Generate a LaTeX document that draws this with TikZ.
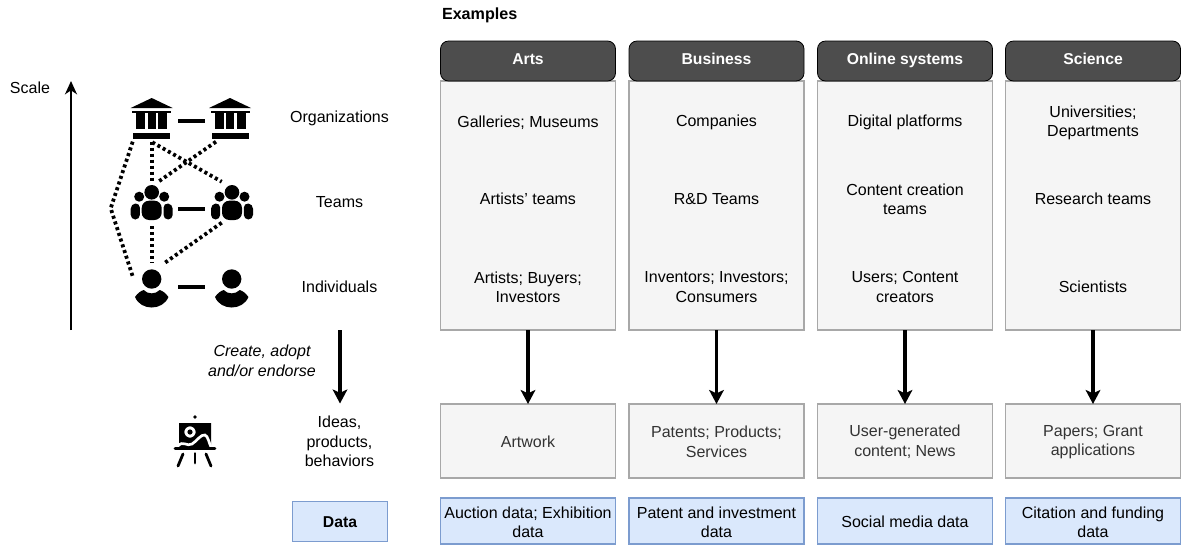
\documentclass[tikz,border=0pt]{standalone}
\usepackage{fontspec}
\setmainfont{Liberation Sans}
\usetikzlibrary{arrows.meta}
\definecolor{hdr}{HTML}{4D4D4D}
\definecolor{bodyfill}{HTML}{F5F5F5}
\definecolor{bodyline}{HTML}{A8A8A8}
\definecolor{datafill}{HTML}{DAE8FC}
\definecolor{dataline}{HTML}{7C9CCF}
\definecolor{graytext}{HTML}{333333}
\tikzset{
  x=0.75pt,y=-0.75pt,
  every node/.style={font=\fontsize{12pt}{14.5pt}\selectfont,align=center,inner sep=0pt,outer sep=0pt,text=black},
  hdrbox/.style={draw=black,line width=0.6pt,fill=hdr,rounded corners=6pt},
  hdrtext/.style={text=white,font=\fontsize{11.8pt}{14.8pt}\selectfont\bfseries,text height=8.5pt,text depth=2.5pt},
  bodybox/.style={draw=bodyline,line width=1.1pt,fill=bodyfill},
  databox/.style={draw=dataline,line width=1pt,fill=datafill},
  flow/.style={-{Stealth[length=10.5pt,width=11pt,inset=2.5pt]},line width=2.3pt,black},
  solidlink/.style={line width=2.8pt,black},
  dotlink/.style={line width=2.8pt,black,dash pattern=on 2.3pt off 2.2pt},
}
\newcommand{\bankicon}[2]{%
  \begin{scope}[shift={(#1,#2)}]
    \fill (0,0) -- (21,10) -- (-21,10) -- cycle;
    \fill (-19.5,12.5) rectangle (19.5,15);
    \fill (-15.5,15) rectangle (-6.5,31);
    \fill (-3.8,15) rectangle (3.8,31);
    \fill (6.5,15) rectangle (15.5,31);
    \fill (-18.5,35.2) rectangle (18.5,41);
  \end{scope}}
\newcommand{\teamicon}[2]{%
  \begin{scope}[shift={(#1,#2)}]
    \fill (0,7.3) circle[radius=7.3];
    \fill (-12.5,11.7) circle[radius=5];
    \fill (12.5,11.7) circle[radius=5];
    \fill[rounded corners=5.5pt] (-10,35) -- (-10,15.7) -- (10,15.7) -- (10,35) -- cycle;
    \fill[rounded corners=3.5pt] (-21,34.5) -- (-21,19) -- (-11.8,18) -- (-11.8,34.5) -- cycle;
    \fill[rounded corners=3.5pt] (21,34.5) -- (21,19) -- (11.8,18) -- (11.8,34.5) -- cycle;
  \end{scope}}
\newcommand{\personicon}[2]{%
  \begin{scope}[shift={(#1,#2)}]
    \fill (0,0) circle[radius=9.7];
    \fill (-16.7,18) .. controls (-14,14) and (-11,12) .. (-8,11)
       .. controls (-4,15.5) and (4,15.5) .. (8,11)
       .. controls (11,12) and (14,14) .. (16.7,18)
       .. controls (11,32) and (-11,32) .. (-16.7,18) -- cycle;
  \end{scope}}
\begin{document}
\begin{tikzpicture}
\useasboundingbox (0,0) rectangle (1181,544);
\node[font=\fontsize{12.1pt}{14pt}\selectfont\bfseries,anchor=west] (examples) at (442,15.5) {Examples};
% columns
\foreach \nm/\xx/\hh/\aa/\bb/\cc/\dd/\ee in {
 a/440.5/Arts/Galleries; Museums/Artists' teams/{Artists; Buyers;\\Investors}/Artwork/{Auction data; Exhibition\\data},
 b/629/Business/Companies/R\&D Teams/{Inventors; Investors;\\Consumers}/{Patents; Products;\\Services}/{Patent and investment\\data},
 c/817.5/Online systems/Digital platforms/{Content creation\\teams}/{Users; Content\\creators}/{User-generated\\content; News}/Social media data,
 d/1005.5/Science/{Universities;\\Departments}/Research teams/Scientists/{Papers; Grant\\applications}/{Citation and funding\\data}}
{
  \path[bodybox] (\xx,81) rectangle ++(175,249);
  \path[hdrbox] (\xx,41) rectangle ++(175,40);
  \node[hdrtext] (h\nm) at (\xx+87.5,60.5) {\hh};
  \node (o\nm) at (\xx+87.5,122.7) {\aa};
  \node (t\nm) at (\xx+87.5,199) {\bb};
  \node (i\nm) at (\xx+87.5,287) {\cc};
  \coordinate (top\nm) at (\xx+87.5,330);
  \node[bodybox,minimum width=131.25pt,minimum height=55.5pt,anchor=north west] (p\nm) at (\xx,404) {};
  \node[text=graytext] (pt\nm) at (\xx+87.5,441.8) {\dd};
  \node[databox,minimum width=131.25pt,minimum height=34.5pt,anchor=north west] (d\nm) at (\xx,498) {};
  \node (dt\nm) at (\xx+87.5,522) {\ee};
  \draw[flow] (top\nm) -- (p\nm.north);
}
% left side
\node (scale) at (30,88) {Scale};
\coordinate (sb) at (71,330); \coordinate (st) at (71,81);
\draw[-{Stealth[length=10pt,width=9pt,inset=3pt]},line width=1.5pt] (sb) -- (st);
\node (orgs) at (339.5,118) {Organizations};
\node (teams) at (339.5,202) {Teams};
\node (indiv) at (339.5,287) {Individuals};
\node[font=\fontsize{12pt}{15pt}\selectfont\itshape] (create) at (262,360.5) {Create, adopt\\and/or endorse};
\coordinate (cb) at (340,330); \coordinate (ct) at (340,403.5);
\draw[flow] (cb) -- (ct);
\node (ideas) at (339.5,441.5) {Ideas,\\products,\\behaviors};
\node[databox,minimum width=71pt,minimum height=30pt,font=\fontsize{11.8pt}{14pt}\selectfont\bfseries] (data) at (340,521.7) {Data};
% icons
\bankicon{151.7}{98}
\bankicon{230}{98}
\teamicon{151.7}{185}
\teamicon{232}{185}
\personicon{151.7}{279}
\personicon{231.7}{279}
\coordinate (o1) at (178,121); \coordinate (o2) at (205,121);
\coordinate (t1) at (178,208.7); \coordinate (t2) at (205,208.7);
\coordinate (p1) at (178,287.3); \coordinate (p2) at (205,287.3);
\draw[solidlink] (o1) -- (o2);
\draw[solidlink] (t1) -- (t2);
\draw[solidlink] (p1) -- (p2);
\coordinate (x1) at (132.7,141.7); \coordinate (x2) at (110.7,208.3); \coordinate (x3) at (133.3,278.3);
\coordinate (y1) at (151.7,141.7); \coordinate (y2) at (151.7,183);
\coordinate (y3) at (152.3,142.3); \coordinate (y4) at (221.7,181.7);
\coordinate (y5) at (216,141.7); \coordinate (y6) at (158.3,181.7);
\coordinate (y7) at (151.7,226); \coordinate (y8) at (151.7,262.7);
\coordinate (y9) at (221.7,222.7); \coordinate (y10) at (165,262.7);
\draw[dotlink] (x1) -- (x2) -- (x3);
\draw[dotlink] (y1) -- (y2);
\draw[dotlink] (y3) -- (y4);
\draw[dotlink] (y5) -- (y6);
\draw[dotlink] (y7) -- (y8);
\draw[dotlink] (y9) -- (y10);
% easel
\begin{scope}[shift={(195,417)}]
  \fill (0,0) circle[radius=1.9];
  \fill[even odd rule] (-16,6) rectangle (16,31) (-5,15) circle[radius=5.7] (-5,15) circle[radius=2.6];
  \draw[white,line width=2pt] (-17,29) .. controls (-12,23) and (-8,30) .. (-3,27) .. controls (2,24) and (6,17) .. (10,18) .. controls (13,19) and (14,26) .. (16,30);
  \draw[line width=2.1pt,line cap=round] (-20,31.5) -- (20,31.5);
  \draw[line width=2.1pt,line cap=round] (-12,37) -- (-17,49);
  \draw[line width=2.1pt,line cap=round] (0,36.5) -- (0,46);
  \draw[line width=2.1pt,line cap=round] (11,37) -- (16,49);
\end{scope}
\end{tikzpicture}
\end{document}
